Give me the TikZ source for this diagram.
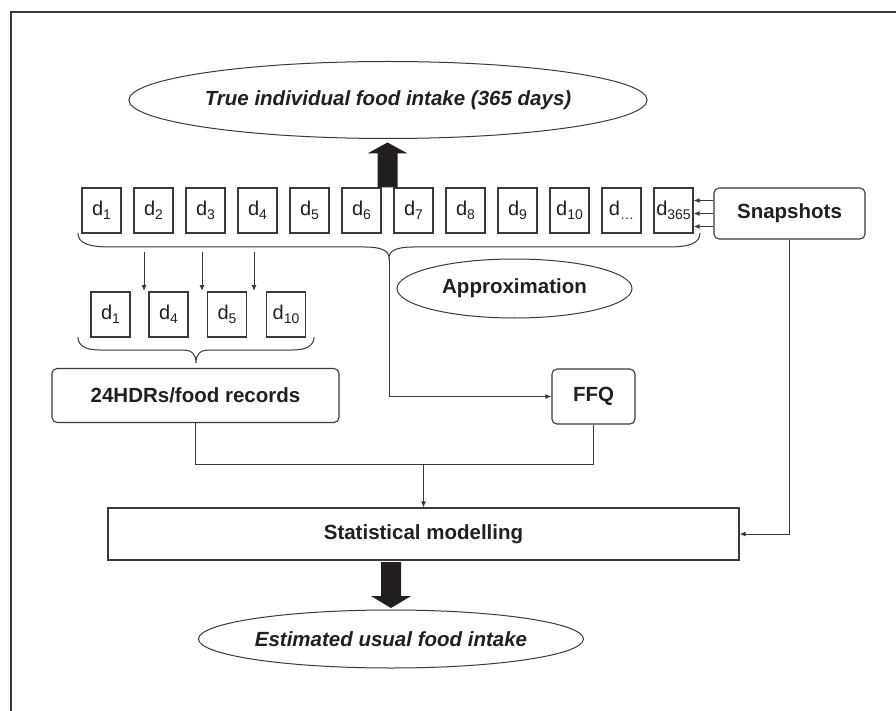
\documentclass[tikz,border=0pt]{standalone}
\usepackage{fontspec}
\setmainfont{Liberation Sans}
\usetikzlibrary{shapes.geometric,arrows.meta,calc}
\definecolor{ink}{HTML}{231F20}
\definecolor{ln}{HTML}{3A3A3A}
\newcommand{\dd}[1]{d\raisebox{-4pt}{\fontsize{14}{14}\selectfont #1}}
\begin{document}
\begin{tikzpicture}[x=1pt,y=-1pt,
  daybox/.style={draw=ln, line width=1.1pt, minimum width=39pt, minimum height=45pt, inner sep=0pt, font=\fontsize{20}{24}\selectfont, text=ink},
  rbox/.style={draw=ln, line width=1.1pt, rounded corners=5pt, inner sep=0pt, font=\bfseries\fontsize{20.5}{24}\selectfont, text=ink},
  sbox/.style={draw=ln, line width=1.1pt, inner sep=0pt, font=\bfseries\fontsize{20.5}{24}\selectfont, text=ink},
  ell/.style={ellipse, draw=ln, line width=1pt, inner sep=0pt, text=ink},
  conn/.style={draw=ln, line width=1pt},
  arr/.style={conn, -{Latex[length=6pt,width=5pt]}},
  bigarrow/.style={fill=ink}
]
\useasboundingbox (0,0) rectangle (896,711);
\fill[white] (0,0) rectangle (896,711);
% frame
\draw[line width=1.5pt, draw=ln] (11,720) -- (11,12) -- (900,12);

% top ellipse
\node[ell, minimum width=462pt, minimum height=77pt, font=\bfseries\itshape\fontsize{20.5}{24}\selectfont] (true) at (388,100) {True individual food intake (365 days)};

% day boxes
\foreach \i in {1,2,3,4,5,6,7,8,9,10}{
  \node[daybox] (d\i) at ({101.5+52*(\i-1)},210.5) {\dd{\i}};
}
\node[daybox] (d11) at ({101.5+52*10},210.5) {\dd{\dots}};
\node[daybox] (d12) at ({101.5+52*11},210.5) {\dd{365}};

% snapshots
\node[rbox, minimum width=151pt, minimum height=51pt] (snap) at (789.5,213.5) {Snapshots};
\foreach \dy in {-13,0,13}{
  \draw[arr] ($(snap.west)+(0,\dy)$) -- ($(d12.east)+(0,\dy+3)$);
}

% big up arrow
\coordinate (ua) at ($(d6.north east)!0.5!(d7.north west)$);
\fill[bigarrow] (ua) ++(-10,0) -- ++(0,-34) -- ++(-10,0) -- ++(20,-11) -- ++(20,11) -- ++(-10,0) -- ++(0,34) -- cycle;

% upper brace
\coordinate (btip) at (389,258);
\draw[conn] (78,233) .. controls (78,243) and (88,247) .. (110,247) -- (365,247)
  .. controls (382,247) and (389,251) .. (btip)
  .. controls (389,251) and (396,247) .. (413,247) -- (668,247)
  .. controls (690,247) and (700,243) .. (700,233);

% approximation
\node[ell, minimum width=235pt, minimum height=59pt, font=\bfseries\fontsize{20.5}{24}\selectfont] (approx) at (514.5,288.5) {Approximation};

% small arrows
\foreach \x in {144,202,254}{
  \coordinate (sa\x) at (\x,252);
  \coordinate (sb\x) at (\x,291);
  \draw[arr] (sa\x) -- (sb\x);
}

% lower day boxes
\node[daybox] (l1) at (110.5,314.5) {\dd{1}};
\node[daybox] (l4) at (168.5,314.5) {\dd{4}};
\node[daybox] (l5) at (227,314.5) {\dd{5}};
\node[daybox] (l10) at (286,314.5) {\dd{10}};

% lower brace
\coordinate (ltip) at (196,363);
\draw[conn] (78,337) .. controls (78,346) and (86,350) .. (100,350) -- (182,350)
  .. controls (192,350) and (196,354) .. (ltip)
  .. controls (196,354) and (200,350) .. (210,350) -- (292,350)
  .. controls (306,350) and (314,346) .. (314,337);

% 24HDRs and FFQ
\node[rbox, minimum width=287pt, minimum height=54pt] (hdr) at (195.5,395.5) {24HDRs/food records};
\node[rbox, minimum width=83pt, minimum height=55pt] (ffq) at (593.5,396.5) {FFQ};
\draw[arr] (btip) |- (ffq.west);

% statistical modelling
\node[sbox, minimum width=631pt, minimum height=52pt] (stat) at (423.5,534) {Statistical modelling};
\coordinate (merge) at (423.5,464);
\draw[conn] (hdr.south) |- (merge);
\draw[conn] (ffq.south) |- (merge);
\draw[arr] (merge) -- (stat.north);
\draw[arr] (snap.south) |- (stat.east);

% big down arrow
\coordinate (da) at (391,562);
\fill[bigarrow] (da) ++(-10,0) -- ++(0,34) -- ++(-10,0) -- ++(20,12) -- ++(20,-12) -- ++(-10,0) -- ++(0,-34) -- cycle;

% estimated
\node[ell, minimum width=366pt, minimum height=58pt, font=\bfseries\itshape\fontsize{20.5}{24}\selectfont] (est) at (391,639) {Estimated usual food intake};
\end{tikzpicture}
\end{document}
